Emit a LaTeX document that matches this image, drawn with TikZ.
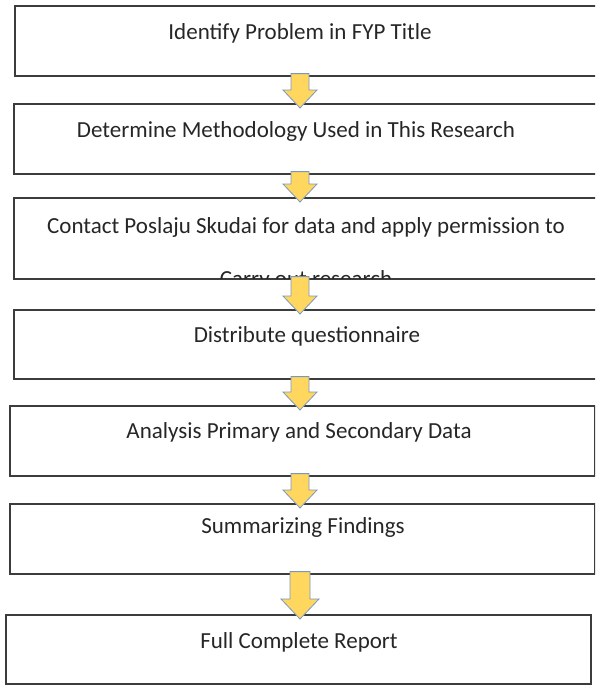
\documentclass[tikz,border=0pt]{standalone}
\usepackage{fontspec}
\setmainfont{Carlito}
\usetikzlibrary{calc,positioning}

\definecolor{boxline}{RGB}{60,60,60}
\definecolor{arrowfill}{RGB}{255,215,95}
\definecolor{arrowline}{RGB}{120,150,195}

\tikzset{
  stepbox/.style={draw=boxline, line width=1.6pt, rectangle, anchor=north west, inner sep=0pt},
  steptext/.style={font=\fontsize{23}{28}\selectfont, inner sep=0pt, text=black!85},
  blockarrow/.style={fill=arrowfill, draw=arrowline, line width=0.8pt, line join=miter},
}

% block arrow from box #1 down to box #2 (half shaft #3, half head #4, head length #5)
\newcommand{\flowarrow}[5]{%
  \draw[blockarrow] let \p1=(axis |- #1.south), \p2=(axis |- #2.north) in
    (\x1-#3,\y1+3pt) -- (\x1+#3,\y1+3pt) -- (\x1+#3,\y2+#5-5pt) -- (\x1+#4,\y2+#5-5pt)
    -- (\x1,\y2-5pt) -- (\x1-#4,\y2+#5-5pt) -- (\x1-#3,\y2+#5-5pt) -- cycle;
}

\begin{document}
\begin{tikzpicture}[x=1pt, y=1pt]
  \useasboundingbox (0,0) rectangle (595,-685);
  \clip (0,0) rectangle (595,-685);
  \coordinate (axis) at (300,0);

  % steps
  \node[stepbox, minimum width=600, minimum height=70] (s1) at (14,-5) {};
  \node[stepbox, minimum width=600, minimum height=70] (s2) at (13,-103) {};
  \node[stepbox, minimum width=600, minimum height=81] (s3) at (13,-197) {};
  \node[stepbox, minimum width=600, minimum height=69] (s4) at (13,-309) {};
  \node[stepbox, minimum width=585, minimum height=70] (s5) at (9,-405) {};
  \node[stepbox, minimum width=585, minimum height=70] (s6) at (9,-503) {};
  \node[stepbox, minimum width=585, minimum height=69] (s7) at (5,-614) {};

  % labels
  \node[steptext] (t1) at (300,-33) {Identify Problem in FYP Title};
  \node[steptext] (t2) at (296,-131) {Determine Methodology Used in This Research};
  \begin{scope}
    \clip ([shift={(1pt,1pt)}]s3.south west) rectangle ([shift={(-1pt,-1pt)}]s3.north east);
    \node[steptext] (t3) at (306,-227) {Contact Poslaju Skudai for data and apply permission to};
    \node[steptext, below=33pt of t3] (t3b) {Carry out research};
  \end{scope}
  \node[steptext] (t4) at (307,-336) {Distribute questionnaire};
  \node[steptext] (t5) at (299,-432) {Analysis Primary and Secondary Data};
  \node[steptext] (t6) at (303,-527) {Summarizing Findings};
  \node[steptext] (t7) at (299,-642) {Full Complete Report};

  % arrows
  \flowarrow{s1}{s2}{9pt}{17pt}{18pt}
  \flowarrow{s2}{s3}{9pt}{17pt}{18pt}
  \flowarrow{s3}{s4}{9pt}{17pt}{18pt}
  \flowarrow{s4}{s5}{9pt}{17pt}{18pt}
  \flowarrow{s5}{s6}{9pt}{17pt}{18pt}
  \flowarrow{s6}{s7}{10pt}{19pt}{20pt}
\end{tikzpicture}
\end{document}
